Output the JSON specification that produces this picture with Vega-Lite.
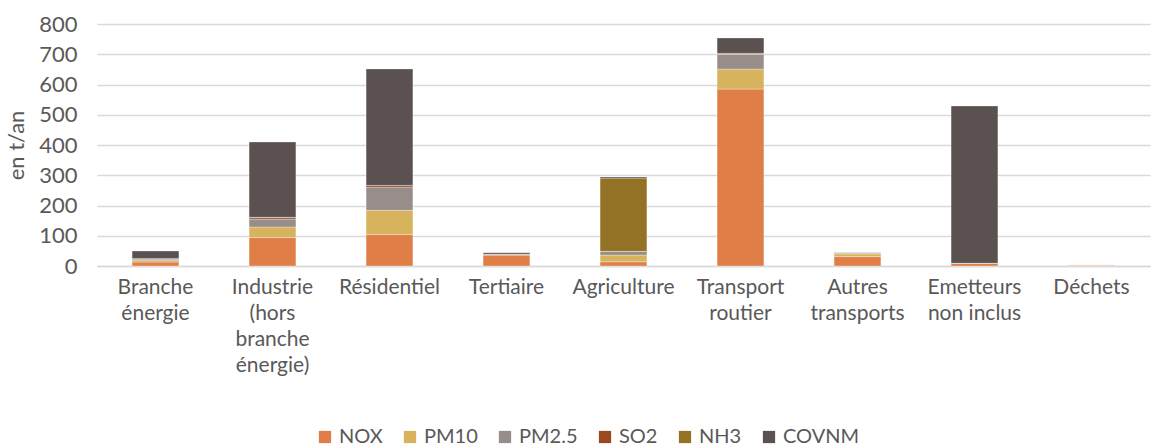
{
  "$schema": "https://vega.github.io/schema/vega-lite/v6.json",
  "autosize": {"type": "none"},
  "width": 1053,
  "height": 242,
  "padding": {"left": 97, "top": 24, "right": 1, "bottom": 181},
  "background": "white",
  "config": {
    "view": {"stroke": null},
    "font": "Lato"
  },
  "data": {
    "values": [
      {"cat": "Branche énergie", "pol": "NOX", "v": 13},
      {"cat": "Branche énergie", "pol": "PM10", "v": 6},
      {"cat": "Branche énergie", "pol": "PM2.5", "v": 4},
      {"cat": "Branche énergie", "pol": "SO2", "v": 1},
      {"cat": "Branche énergie", "pol": "NH3", "v": 0.5},
      {"cat": "Branche énergie", "pol": "COVNM", "v": 25},
      {"cat": "Industrie (hors branche énergie)", "pol": "NOX", "v": 94},
      {"cat": "Industrie (hors branche énergie)", "pol": "PM10", "v": 35},
      {"cat": "Industrie (hors branche énergie)", "pol": "PM2.5", "v": 26},
      {"cat": "Industrie (hors branche énergie)", "pol": "SO2", "v": 5},
      {"cat": "Industrie (hors branche énergie)", "pol": "NH3", "v": 1},
      {"cat": "Industrie (hors branche énergie)", "pol": "COVNM", "v": 249},
      {"cat": "Résidentiel", "pol": "NOX", "v": 104},
      {"cat": "Résidentiel", "pol": "PM10", "v": 80},
      {"cat": "Résidentiel", "pol": "PM2.5", "v": 77},
      {"cat": "Résidentiel", "pol": "SO2", "v": 5},
      {"cat": "Résidentiel", "pol": "NH3", "v": 0.5},
      {"cat": "Résidentiel", "pol": "COVNM", "v": 385},
      {"cat": "Tertiaire", "pol": "NOX", "v": 36},
      {"cat": "Tertiaire", "pol": "PM10", "v": 1},
      {"cat": "Tertiaire", "pol": "PM2.5", "v": 1},
      {"cat": "Tertiaire", "pol": "SO2", "v": 1},
      {"cat": "Tertiaire", "pol": "NH3", "v": 0},
      {"cat": "Tertiaire", "pol": "COVNM", "v": 5},
      {"cat": "Agriculture", "pol": "NOX", "v": 14},
      {"cat": "Agriculture", "pol": "PM10", "v": 22},
      {"cat": "Agriculture", "pol": "PM2.5", "v": 12},
      {"cat": "Agriculture", "pol": "SO2", "v": 0.5},
      {"cat": "Agriculture", "pol": "NH3", "v": 242},
      {"cat": "Agriculture", "pol": "COVNM", "v": 4},
      {"cat": "Transport routier", "pol": "NOX", "v": 585},
      {"cat": "Transport routier", "pol": "PM10", "v": 66},
      {"cat": "Transport routier", "pol": "PM2.5", "v": 49},
      {"cat": "Transport routier", "pol": "SO2", "v": 1},
      {"cat": "Transport routier", "pol": "NH3", "v": 2},
      {"cat": "Transport routier", "pol": "COVNM", "v": 51},
      {"cat": "Autres transports", "pol": "NOX", "v": 31},
      {"cat": "Autres transports", "pol": "PM10", "v": 9},
      {"cat": "Autres transports", "pol": "PM2.5", "v": 3},
      {"cat": "Autres transports", "pol": "SO2", "v": 0.5},
      {"cat": "Autres transports", "pol": "NH3", "v": 0},
      {"cat": "Autres transports", "pol": "COVNM", "v": 1},
      {"cat": "Emetteurs non inclus", "pol": "NOX", "v": 9},
      {"cat": "Emetteurs non inclus", "pol": "PM10", "v": 0},
      {"cat": "Emetteurs non inclus", "pol": "PM2.5", "v": 0},
      {"cat": "Emetteurs non inclus", "pol": "SO2", "v": 0},
      {"cat": "Emetteurs non inclus", "pol": "NH3", "v": 0},
      {"cat": "Emetteurs non inclus", "pol": "COVNM", "v": 520},
      {"cat": "Déchets", "pol": "NOX", "v": 4},
      {"cat": "Déchets", "pol": "PM10", "v": 0},
      {"cat": "Déchets", "pol": "PM2.5", "v": 0},
      {"cat": "Déchets", "pol": "SO2", "v": 0},
      {"cat": "Déchets", "pol": "NH3", "v": 0},
      {"cat": "Déchets", "pol": "COVNM", "v": 0}
    ]
  },
  "transform": [
    {"calculate": "indexof(['NOX', 'PM10', 'PM2.5', 'SO2', 'NH3', 'COVNM'], datum.pol)", "as": "stackOrder"}
  ],
  "mark": {"type": "bar", "stroke": "white", "strokeWidth": 0.5, "strokeOpacity": 0.6},
  "encoding": {
    "x": {
      "field": "cat",
      "type": "nominal",
      "sort": null,
      "scale": {"paddingInner": 0.6, "paddingOuter": 0.3},
      "axis": {
        "title": null,
        "labelAngle": 0,
        "labelFontSize": 21,
        "labelColor": "#595959",
        "labelPadding": 10,
        "labelLineHeight": 26,
        "labelLimit": 200,
        "ticks": false,
        "domainColor": "#D9D9D9",
        "domainWidth": 1.3,
        "labelExpr": "{'Branche énergie': ['Branche', 'énergie'], 'Industrie (hors branche énergie)': ['Industrie', '(hors', 'branche', 'énergie)'], 'Transport routier': ['Transport', 'routier'], 'Autres transports': ['Autres', 'transports'], 'Emetteurs non inclus': ['Emetteurs', 'non inclus']}[datum.value] || datum.value"
      }
    },
    "y": {
      "field": "v",
      "type": "quantitative",
      "aggregate": "sum",
      "stack": "zero",
      "scale": {"domain": [0, 800]},
      "axis": {
        "title": "en t/an",
        "titleFontSize": 22,
        "titleFontWeight": "normal",
        "titleColor": "#595959",
        "titlePadding": 10,
        "values": [0, 100, 200, 300, 400, 500, 600, 700, 800],
        "labelFontSize": 22,
        "labelColor": "#595959",
        "labelPadding": 20,
        "labelOverlap": false,
        "ticks": false,
        "domain": false,
        "gridColor": "#D9D9D9",
        "gridWidth": 1.3
      }
    },
    "color": {
      "field": "pol",
      "type": "nominal",
      "sort": ["NOX", "PM10", "PM2.5", "SO2", "NH3", "COVNM"],
      "scale": {
        "domain": ["NOX", "PM10", "PM2.5", "SO2", "NH3", "COVNM"],
        "range": ["#DF7F47", "#D8B35D", "#978D8A", "#9A4A1C", "#937125", "#5B5150"]
      },
      "legend": {
        "title": null,
        "orient": "none",
        "legendX": 218,
        "legendY": 403,
        "direction": "horizontal",
        "symbolType": "square",
        "symbolSize": 150,
        "symbolStrokeWidth": 0,
        "labelFontSize": 20,
        "labelColor": "#595959",
        "labelOffset": 4,
        "columnPadding": 17
      }
    },
    "order": {"field": "stackOrder", "type": "quantitative", "sort": "ascending"}
  }
}
